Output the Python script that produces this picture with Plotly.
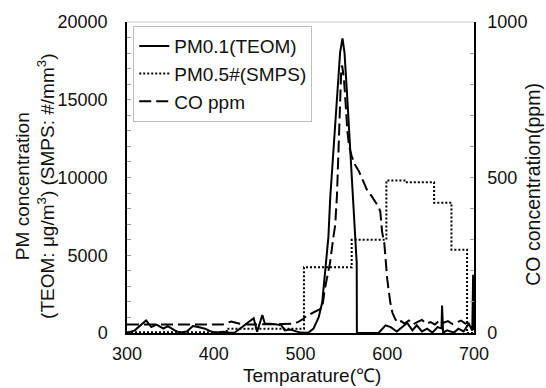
import plotly.graph_objects as go

# ---- data ----
pm01_temp = [300, 301, 309, 315, 322, 328, 334, 342, 347, 355, 361, 369, 376, 382, 390, 396,
             403, 411, 417, 424, 432, 440, 446, 450, 453, 456, 459, 465, 473, 478, 482, 488,
             500, 509, 515, 521, 525, 528.4, 532.2, 534.2, 537.3, 539.2, 541.9, 545.7, 548.4,
             550.7, 553.5, 556.1, 558.5, 561.1, 563.1, 564.8, 565, 590, 598, 604, 611, 617,
             623, 629, 634, 640, 646, 652, 658, 662.5, 663.2, 664.4, 669, 677, 682, 688, 694,
             698, 699, 699.5]
pm01_val = [0, 25, 170, 490, 806, 380, 538, 279, 444, 170, 25, 90, 444, 380, 279, 120,
            25, 80, 25, 20, 380, 700, 950, 80, 700, 1160, 600, 600, 540, 490, 170, 230,
            25, 20, 280, 1010, 1960, 4075, 6190, 8635, 11175, 12760, 15515, 18055, 18945,
            18055, 15515, 12975, 11000, 8635, 5885, 4500, 0, 0, 490, 380, 100, 380,
            650, 170, 490, 100, 280, 25, 380, 300, 1760, 25, 170, 25, 280, 100, 600,
            150, 3750, 200]

smps_temp = [300, 415, 504, 559, 599, 621, 654, 674, 692, 700]
smps_val = [50, 280, 4230, 5990, 9800, 9700, 8380, 5360, 0, 0]

co_temp = [300, 310, 320, 330, 340, 350, 360, 370, 380, 390, 400, 410, 420, 430, 440, 450,
           460, 470, 480, 490, 497, 503, 507, 512, 518, 525, 528, 531, 534, 538, 540, 542,
           543.5, 545, 546, 547, 548, 550, 552, 554, 556, 559, 563, 567, 572, 577, 582, 586,
           590, 592, 594, 596.6, 598, 600, 603.5, 606, 609, 612, 616, 620, 625, 630, 635,
           640, 645, 650, 655, 660, 665, 670, 675, 680, 685, 690, 695, 700]
co_val = [27, 27, 26, 27, 27, 26, 27, 27, 26, 27, 26, 27, 37, 30, 27, 27,
          28, 27, 29, 30, 35, 45, 56, 62, 70, 80, 141, 180, 225, 310, 347, 440,
          580, 700, 800, 850, 860, 820, 740, 650, 600, 569, 540, 522, 490, 458, 440, 421,
          405, 390, 326, 289, 230, 173, 98, 65, 46, 33, 38, 30, 40, 28, 36,
          42, 30, 35, 27, 40, 33, 38, 29, 35, 40, 30, 36, 32]

left_ticks = [0, 5000, 10000, 15000, 20000]
right_ticks = [0, 500, 1000]
x_ticks = [300, 400, 500, 600, 700]

FONT = "Liberation Sans, Arial, sans-serif"
INK = "#111111"

fig = go.Figure()
fig.add_trace(go.Scatter(x=pm01_temp, y=pm01_val, mode="lines", name="PM0.1(TEOM)",
                         line=dict(color="black", width=2)))
fig.add_trace(go.Scatter(x=smps_temp, y=smps_val, mode="lines", name="PM0.5#(SMPS)",
                         line=dict(color="black", width=2, dash="2px,2px", shape="hv")))
fig.add_trace(go.Scatter(x=co_temp, y=co_val, mode="lines", name="CO ppm", yaxis="y2",
                         line=dict(color="black", width=2, dash="12px,5px")))

fig.update_layout(
    width=546, height=388,
    margin=dict(l=127, r=72, t=18, b=55),
    paper_bgcolor="white", plot_bgcolor="white",
    font=dict(family=FONT, size=18, color=INK),
    showlegend=True,
    legend=dict(x=0.018, y=0.987, xanchor="left", yanchor="top",
                bgcolor="white", bordercolor="#bdbdbd", borderwidth=1,
                font=dict(size=19, color=INK), tracegroupgap=0),
    xaxis=dict(range=[300, 700], tickvals=x_ticks, tickformat="d", showgrid=False, zeroline=False,
               showline=True, linecolor="black", linewidth=1.5, ticks="",
               ticklabelstandoff=4),
    yaxis=dict(range=[0, 20000], tickvals=left_ticks, tickformat="d", showgrid=False, zeroline=False,
               showline=True, linecolor="black", linewidth=1.5,
               ticks="inside", ticklen=4, tickcolor="#999999",
               minor=dict(dtick=1000, ticks="inside", ticklen=4, tickcolor="#999999", showgrid=False),
               ticklabelstandoff=14),
    yaxis2=dict(range=[0, 1000], tickvals=right_ticks, tickformat="d", overlaying="y", side="right",
                showgrid=False, zeroline=False, showline=True, linecolor="black", linewidth=1.5,
                ticks="inside", ticklen=4, tickcolor="#999999",
                minor=dict(dtick=100, ticks="inside", ticklen=4, tickcolor="#999999", showgrid=False),
                ticklabelstandoff=8),
    shapes=[dict(type="line", xref="paper", yref="paper", x0=0, x1=1, y0=1, y1=1,
                 line=dict(color="#c8c8c8", width=1))],
    annotations=[
        dict(text="PM concentration<br>(TEOM: μg/m<sup>3</sup>) (SMPS: #/mm<sup>3</sup>)",
             textangle=-90, xref="paper", yref="paper", x=-0.265, y=0.47,
             xanchor="center", yanchor="middle", showarrow=False,
             font=dict(size=19, color=INK)),
        dict(text="CO concentration(ppm)", textangle=-90, xref="paper", yref="paper",
             x=1.17, y=0.48, xanchor="center", yanchor="middle", showarrow=False,
             font=dict(size=19.5, color=INK)),
        dict(text="Temparature(℃)", xref="paper", yref="paper", x=0.533, y=-0.136,
             xanchor="center", yanchor="middle", showarrow=False,
             font=dict(size=19, color=INK)),
    ],
)

fig.write_html("out.html")
